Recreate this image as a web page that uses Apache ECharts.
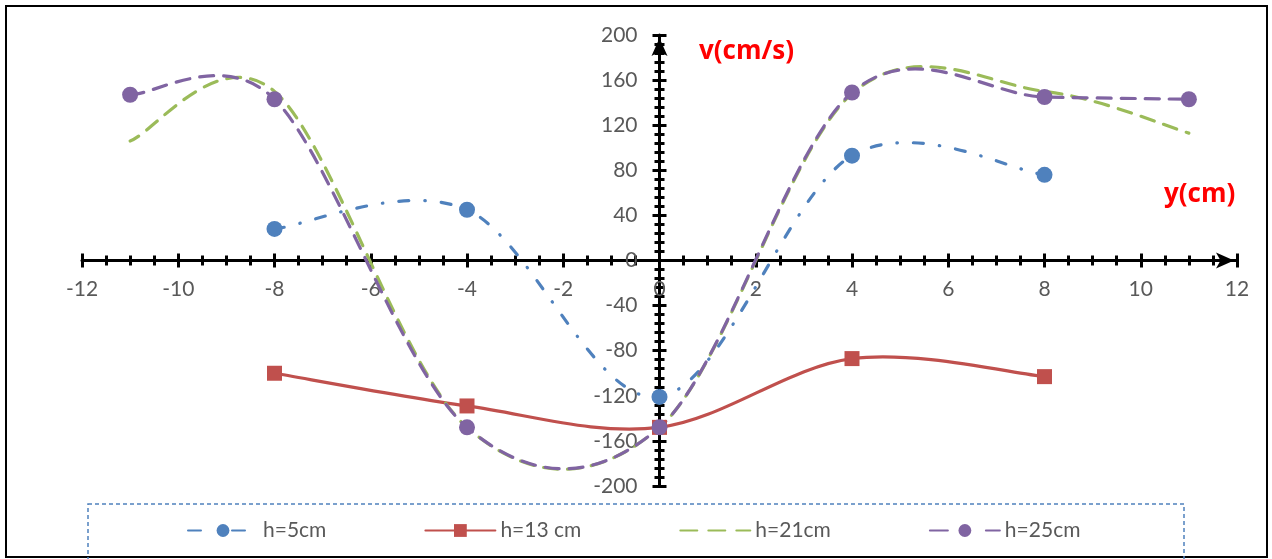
<!DOCTYPE html>
<html>
<head>
<meta charset="utf-8">
<script src="https://cdn.jsdelivr.net/npm/echarts@6/dist/echarts.min.js"></script>
<style>html,body{margin:0;padding:0;background:#fff;}#c{width:1272px;height:559px;}</style>
</head>
<body>
<div id="c"></div>
<script>
const seriesNames = ['h=5cm', 'h=13 cm', 'h=21cm', 'h=25cm'];
const x5 = [-8, -4, 0, 4, 8];
const v5 = [28, 45, -121, 93, 76];
const x13 = [-8, -4, 0, 4, 8];
const v13 = [-100, -129, -148, -87, -103];
const x21 = [-11, -8, -4, 0, 4, 8, 11];
const v21 = [106, 150, -148, -148, 148, 150, 113];
const x25 = [-11, -8, -4, 0, 4, 8, 11];
const v25 = [147, 143, -148, -148, 149, 145, 143];
const xTicks = {min: -12, max: 12, interval: 2};
const yTicks = {min: -200, max: 200, interval: 40};

const colors = ['#4F81BD', '#C0504D', '#9BBB59', '#8064A2'];
const xsAll = [x5, x13, x21, x25];
const vsAll = [v5, v13, v21, v25];
const dashes = [[10, 16, 0.5, 16], null, [14, 10], [14, 10]];
const dashOffsets = [0, 0, 4, 0];
const symbols = ['circle', 'rect', 'none', 'circle'];
const symbolSizes = [16, 15, 0, 16];
const legendDashes = [[13, 31], 'solid', [17, 11], [18, 38]];

const GRID = {left: 82, right: 35, top: 35, bottom: 73};
const W = 1272, H = 559;
const gw = W - GRID.left - GRID.right, gh = H - GRID.top - GRID.bottom;

const pairs = (xs, vs) => xs.map((x, i) => [x, vs[i]]);
const FONT = 'Lato, "Open Sans", sans-serif';
const TITLE_FONT = '"Open Sans", Lato, sans-serif';
const labelFont = {color: '#595959', fontSize: 21, fontFamily: FONT};

function xAx(inside, show) {
  return {
    type: 'value', min: xTicks.min, max: xTicks.max, interval: xTicks.interval,
    position: 'bottom', offset: -gh / 2,
    axisLine: {show: show, onZero: false, lineStyle: {color: '#000', width: 3},
      symbol: ['none', 'arrow'], symbolSize: [12, 18], symbolOffset: [0, -3]},
    axisTick: {show: true, inside: inside, length: 7, lineStyle: {color: '#000', width: 3}},
    minorTick: {show: true, splitNumber: 4, length: 5, lineStyle: {color: '#000', width: 3}},
    axisLabel: {show: show, margin: 18, ...labelFont},
    splitLine: {show: false}, minorSplitLine: {show: false}
  };
}
function yAx(inside, show) {
  return {
    type: 'value', min: yTicks.min, max: yTicks.max, interval: yTicks.interval,
    position: 'left', offset: -gw / 2,
    axisLine: {show: show, onZero: false, lineStyle: {color: '#000', width: 3},
      symbol: ['none', 'arrow'], symbolSize: [12, 18], symbolOffset: [0, -3]},
    axisTick: {show: true, inside: inside, length: 7, lineStyle: {color: '#000', width: 3}},
    minorTick: {show: true, splitNumber: 5, length: 5, lineStyle: {color: '#000', width: 3}},
    axisLabel: {show: show, margin: 22, ...labelFont},
    splitLine: {show: false}, minorSplitLine: {show: false}
  };
}

// Excel-like smoothed curve (Bezier through the data points, computed in pixel space)
function smoothPath(pts) {
  const d = (a, b) => Math.hypot(a[0] - b[0], a[1] - b[1]);
  let s = 'M' + pts[0][0] + ',' + pts[0][1];
  for (let i = 0; i < pts.length - 1; i++) {
    const p1 = pts[i], p2 = pts[i + 1];
    const p0 = i > 0 ? pts[i - 1] : p1;
    const p3 = i + 2 < pts.length ? pts[i + 2] : p2;
    const d12 = d(p1, p2), d02 = d(p0, p2), d13 = d(p1, p3);
    const f1 = d02 > 0 ? Math.min(1 / 6, d12 / (2 * d02)) : 0;
    const f2 = d13 > 0 ? Math.min(1 / 6, d12 / (2 * d13)) : 0;
    const c1 = [p1[0] + (p2[0] - p0[0]) * f1, p1[1] + (p2[1] - p0[1]) * f1];
    const c2 = [p2[0] - (p3[0] - p1[0]) * f2, p2[1] - (p3[1] - p1[1]) * f2];
    s += 'C' + c1[0] + ',' + c1[1] + ' ' + c2[0] + ',' + c2[1] + ' ' + p2[0] + ',' + p2[1];
  }
  return s;
}

const series = [];
const legendData = [];
seriesNames.forEach((name, k) => {
  const xs = xsAll[k], vs = vsAll[k];
  series.push({
    name: name + ' curve', type: 'custom', coordinateSystem: 'cartesian2d',
    data: pairs(xs, vs), encode: {x: 0, y: 1}, silent: true,
    renderItem: function (params, api) {
      if (params.dataIndex !== 0) return null;
      const pts = xs.map((x, i) => api.coord([x, vs[i]]));
      return {
        type: 'path',
        shape: {pathData: smoothPath(pts)},
        style: {fill: null, stroke: colors[k], lineWidth: 3.2, lineCap: 'round',
          lineDash: dashes[k] || null, lineDashOffset: dashOffsets[k]}
      };
    }
  });
  series.push({
    name: name, type: 'line', data: pairs(xs, vs), color: colors[k],
    symbol: symbols[k], symbolSize: symbolSizes[k], showSymbol: symbols[k] !== 'none',
    lineStyle: {opacity: 0, width: 3.4, color: colors[k], cap: 'round', type: legendDashes[k]},
    itemStyle: {color: colors[k], opacity: 1}
  });
  legendData.push({
    name: name,
    lineStyle: {opacity: 1},
    itemStyle: {opacity: symbols[k] === 'none' ? 0 : 1}
  });
});

const chart = echarts.init(document.getElementById('c'));
chart.setOption({
  backgroundColor: '#fff',
  animation: false,
  grid: GRID,
  xAxis: [xAx(false, true), xAx(true, false)],
  yAxis: [yAx(false, true), yAx(true, false)],
  legend: {
    data: legendData,
    bottom: 13, left: 182,
    itemWidth: 70, itemHeight: 16, itemGap: 98,
    textStyle: {color: '#595959', fontSize: 21, fontFamily: FONT}
  },
  graphic: [
    {type: 'rect', shape: {x: 6, y: 6, width: 1261, height: 551}, style: {fill: 'none', stroke: '#000', lineWidth: 2}, silent: true},
    {type: 'rect', shape: {x: 88, y: 504, width: 1096, height: 70}, style: {fill: 'none', stroke: '#4F81BD', lineWidth: 1.5, lineDash: [4, 3]}, silent: true},
    {type: 'text', left: 699, top: 39, style: {text: 'v(cm/s)', fill: '#FF0000', font: 'bold 26px ' + TITLE_FONT}},
    {type: 'text', left: 1164, top: 182, style: {text: 'y(cm)', fill: '#FF0000', font: 'bold 26px ' + TITLE_FONT}}
  ],
  series: series
});
</script>
</body>
</html>
